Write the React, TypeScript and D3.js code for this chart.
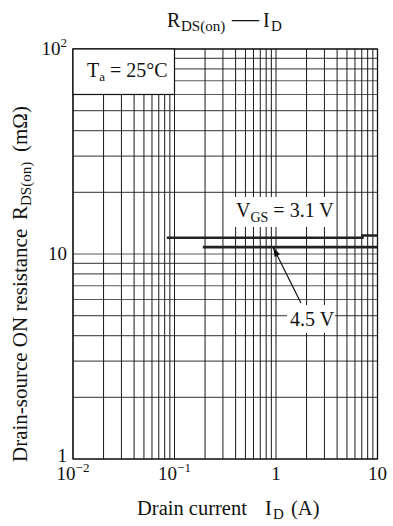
import React from 'react';
import * as d3 from 'd3';

const W = 393;
const H = 526;

// values
const xDomain = [0.01, 10];
const yDomain = [1, 100];

const vgs31Current = [0.084, 7.1, 7.1, 10];
const vgs31Rds = [12.0, 12.0, 12.3, 12.3];
const vgs45Current = [0.19, 10];
const vgs45Rds = [10.8, 10.8];

const xTickValues = [0.01, 0.1, 1, 10];
const xTickBase = ['10', '10', '1', '10'];
const xTickExp = ['−2', '−1', '', ''];
const yTickValues = [1, 10, 100];
const yTickBase = ['1', '10', '10'];
const yTickExp = ['', '', '2'];

const FONT = '"Liberation Serif", "DejaVu Serif", serif';

export default function App() {
  const x = d3.scaleLog().domain(xDomain).range([73, 377.5]);
  const y = d3.scaleLog().domain(yDomain).range([459, 49]);

  const [x0, x1] = x.range();
  const [y0, y1] = y.range();

  const line = d3
    .line<[number, number]>()
    .x((d) => x(d[0]))
    .y((d) => y(d[1]));

  const c31 = vgs31Current.map((v, i) => [v, vgs31Rds[i]] as [number, number]);
  const c45 = vgs45Current.map((v, i) => [v, vgs45Rds[i]] as [number, number]);

  // arrow from the 4.5 V label up to its curve
  const tip = [x(0.94), y(10.75)];
  const tail = [x(1.76), y(5.77)];
  const ang = Math.atan2(tip[1] - tail[1], tip[0] - tail[0]);
  const ah = 9;
  const aw = 3;
  const headPts = [
    tip,
    [tip[0] - ah * Math.cos(ang) + aw * Math.sin(ang), tip[1] - ah * Math.sin(ang) - aw * Math.cos(ang)],
    [tip[0] - ah * Math.cos(ang) - aw * Math.sin(ang), tip[1] - ah * Math.sin(ang) + aw * Math.cos(ang)],
  ];

  return (
    <>
      <style>{`body{margin:0}`}</style>
      <svg width={W} height={H} style={{ display: 'block', background: '#fff' }} fontFamily={FONT}>
        {/* title */}
        <text y={27} fontSize={20} fill="#111">
          <tspan x={167}>R</tspan>
          <tspan x={181} fontSize={15} dy={4}>DS(on)</tspan>
          <tspan x={232} dy={-4} fontSize={27}>—</tspan>
          <tspan x={263}>I</tspan>
          <tspan x={271} fontSize={15} dy={4}>D</tspan>
        </text>

        {/* grid */}
        {y.ticks().map((t, i) => (
          <line key={'h' + i} x1={x0} x2={x1} y1={y(t)} y2={y(t)} stroke="#5a5a5a" strokeWidth={1.2} />
        ))}
        {x.ticks().map((t, i) => (
          <line key={'v' + i} x1={x(t)} x2={x(t)} y1={y0} y2={y1} stroke="#1a1a1a" strokeWidth={1} />
        ))}
        <rect x={x0} y={y1} width={x1 - x0} height={y0 - y1} fill="none" stroke="#111" strokeWidth={1.3} />

        {/* Ta box */}
        <rect x={x0} y={y1} width={x(0.1) - x0} height={y(60) - y1} fill="#fff" stroke="#111" strokeWidth={1.2} />
        <text x={87} y={77} fontSize={20} fill="#111">
          T<tspan fontSize={13} dy={4}>a</tspan>
          <tspan dy={-4}> = 25°C</tspan>
        </text>

        {/* curves */}
        <path d={line(c31) || ''} fill="none" stroke="#222" strokeWidth={2.6} />
        <path d={line(c45) || ''} fill="none" stroke="#222" strokeWidth={2.6} />

        {/* VGS label */}
        <rect x={233} y={197} width={99} height={30} fill="#fff" />
        <text x={236} y={217} fontSize={20} fill="#111">
          V<tspan fontSize={14} dy={5}>GS</tspan>
          <tspan dy={-5}> = 3.1 V</tspan>
        </text>

        {/* 4.5 V label + arrow */}
        <rect x={287} y={305} width={48} height={28} fill="#fff" />
        <text x={290} y={326} fontSize={20} fill="#111">4.5 V</text>
        <line x1={tail[0]} y1={tail[1]} x2={tip[0]} y2={tip[1]} stroke="#111" strokeWidth={1.2} />
        <polygon points={headPts.map((p) => p.join(',')).join(' ')} fill="#111" />

        {/* y tick labels */}
        {yTickValues.map((t, i) => (
          <text key={'yt' + i} x={67} y={i === 0 ? y(t) + 3 : y(t) + 6} fontSize={19} textAnchor="end" fill="#111">
            {yTickBase[i]}
            {yTickExp[i] && (
              <tspan fontSize={13} dy={-8}>
                {yTickExp[i]}
              </tspan>
            )}
          </text>
        ))}

        {/* x tick labels */}
        {xTickValues.map((t, i) => (
          <text key={'xt' + i} x={x(t)} y={480} fontSize={19} textAnchor="middle" fill="#111">
            {xTickBase[i]}
            {xTickExp[i] && (
              <tspan fontSize={13} dy={-8}>
                {xTickExp[i]}
              </tspan>
            )}
          </text>
        ))}

        {/* x axis title */}
        <text y={515} fontSize={20.5} fill="#111">
          <tspan x={137}>Drain current</tspan>
          <tspan x={265}>I</tspan>
          <tspan x={273} fontSize={15} dy={4}>D</tspan>
          <tspan x={291} dy={-4}>(A)</tspan>
        </text>

        {/* y axis title */}
        <text transform="translate(27,462) rotate(-90)" fontSize={21} fill="#111">
          <tspan x={0}>Drain-source ON resistance</tspan>
          <tspan x={242}>R</tspan>
          <tspan x={256} fontSize={15} dy={4}>DS(on)</tspan>
          <tspan x={310} dy={-4}>(mΩ)</tspan>
        </text>
      </svg>
    </>
  );
}
